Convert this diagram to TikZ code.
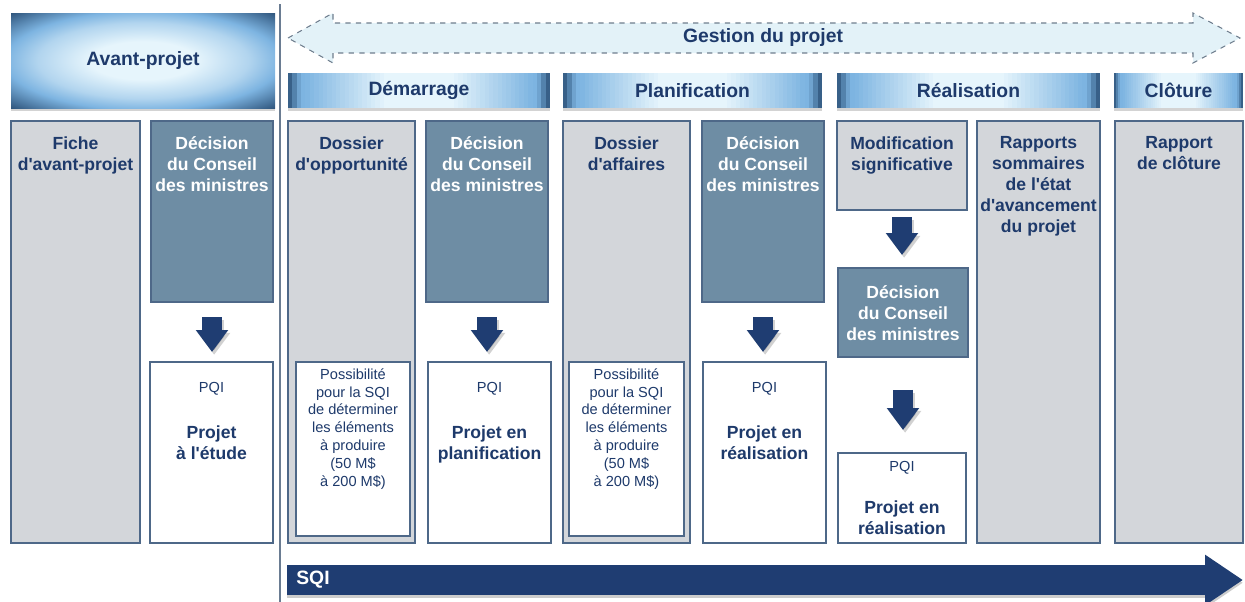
\documentclass[tikz,border=0pt]{standalone}
\usepackage{fontspec}
\setmainfont{Liberation Sans}[Ligatures=TeXOff]
\usetikzlibrary{arrows.meta,shadows,calc}
\definecolor{navy}{HTML}{1E3A6B}
\definecolor{cellgray}{HTML}{D3D6DA}
\definecolor{cellslate}{HTML}{6E8DA4}
\definecolor{cellline}{HTML}{4E6888}
\definecolor{hdrlight}{HTML}{E6F5FC}
\definecolor{hdrmid}{HTML}{7DB4E1}
\definecolor{hdrdark}{HTML}{2A4F76}
\definecolor{mgmtfill}{HTML}{E3F2F8}
\definecolor{dashgray}{HTML}{6F7E8E}
\definecolor{arrowblue}{HTML}{1F3D72}
\definecolor{sepgray}{HTML}{6A7C92}
\pgfdeclareradialshading{hdrglow}{\pgfpoint{0bp}{0bp}}{color(0bp)=(hdrlight); color(10bp)=(hdrlight); color(20bp)=(hdrmid!50!hdrlight); color(26bp)=(hdrmid); color(31bp)=(hdrmid!50!hdrdark); color(36bp)=(hdrdark); color(50bp)=(hdrdark)}
\tikzset{
  cell/.style 2 args={anchor=north west, inner sep=0pt, outer sep=0pt,
    minimum width=#1*0.02cm, minimum height=#2*0.02cm, draw=cellline, line width=0.6pt},
  graycell/.style={fill=cellgray},
  slatecell/.style={fill=cellslate},
  whitecell/.style={fill=white},
  hdr/.style={draw=none, font=\bfseries\fontsize{11}{13}\selectfont, text=navy,
    drop shadow={shadow xshift=0pt, shadow yshift=-1.6pt, opacity=0.35}},
  phase/.style={hdr, fill=hdrmid, path picture={
    \coordinate (pa) at (path picture bounding box.south west);
    \coordinate (pb) at (path picture bounding box.north east);
    \foreach \k in {0,...,59}{
      \pgfmathsetmacro{\tpos}{abs(\k+0.5-30)/30}
      \pgfmathsetmacro{\pmix}{min(100,max(0,(\tpos-0.25)/0.62*100))}
      \pgfmathsetmacro{\qmix}{min(100,max(0,(\tpos-0.9)/0.1*100))}
      \colorlet{barmix}{hdrmid!\pmix!hdrlight}
      \fill[hdrdark!\qmix!barmix] ($(pa)!{\k/60}!(pa -| pb)$) rectangle ($(pa |- pb)!{(\k+1.05)/60}!(pb)$);
    }}},
  hdrtext/.style={font=\bfseries\fontsize{11}{13}\selectfont, text=navy, inner sep=0pt},
  title/.style={anchor=north, align=center, inner sep=0pt, text=navy,
    font=\bfseries\fontsize{10}{12}\selectfont},
  wtitle/.style={title, text=white},
  note/.style={anchor=north, align=center, inner sep=0pt, text=navy,
    font=\fontsize{8.3}{10.2}\selectfont},
  mgmt/.style={fill=mgmtfill, draw=dashgray, dashed, line width=0.6pt},
  sepline/.style={draw=sepgray, line width=0.7pt},
  downarrow/.style={draw=arrowblue, line width=0.4cm, -{Triangle[width=0.62cm, length=0.44cm]}},
  arrowshade/.style={downarrow, draw=black, opacity=0.18, transform canvas={xshift=1.2pt, yshift=-1.6pt}},
  sqiarrow/.style={draw=arrowblue, line width=0.6cm, -{Triangle[width=0.96cm, length=0.76cm]}},
  sqitext/.style={anchor=west, inner sep=0pt, text=white, font=\bfseries\fontsize{11}{13}\selectfont}
}
\begin{document}
\begin{tikzpicture}[x=0.02cm,y=-0.02cm]
\useasboundingbox (0,0) rectangle (1245,602);
% avant-projet | projet
\draw[sepline] (280,4) -- (280,602);
% gestion du projet
\draw[mgmt] (288,38) -- (333,13) -- (333,23) -- (1193,23) -- (1193,13) -- (1240,38)
  -- (1193,63) -- (1193,53) -- (333,53) -- (333,63) -- cycle;
\node[hdrtext] (gestion) at (763,38) {Gestion du projet};
% en-tetes
\node[cell={264}{95}, hdr, shading=hdrglow] (avant) at (11,13) {Avant-projet};
\node[cell={262}{35}, phase] (demarrage) at (288,73) {Démarrage};
\node[cell={259}{35}, phase] (planif) at (563,73) {Planification};
\node[cell={263}{35}, phase] (realis) at (837,73) {Réalisation};
\node[cell={129}{35}, phase] (clot) at (1114,73) {Clôture};
% colonnes
\node[cell={129}{422}, graycell] (fiche) at (11,121) {};
\node[title] (fichetxt) at (75.5,136) {Fiche\\d'avant-projet};
\node[cell={122}{181}, slatecell] (dec1) at (151,121) {};
\node[wtitle] (dec1txt) at (212,136) {Décision\\du Conseil\\des ministres};
\node[cell={123}{181}, whitecell] (pqi1) at (150,362) {};
\node[note] (pqi1a) at (211.5,382) {PQI};
\node[title] (pqi1b) at (211.5,425.5) {Projet\\à l'étude};

\node[cell={127}{422}, graycell] (oppo) at (288,121) {};
\node[title] (oppotxt) at (351.5,136) {Dossier\\d'opportunité};
\node[cell={114}{174}, whitecell] (oppoin) at (296,362) {};
\node[note] (oppointxt) at (353,368) {Possibilité\\pour la SQI\\de déterminer\\les éléments\\à produire\\(50 M\$\\à 200 M\$)};
\node[cell={122}{181}, slatecell] (dec2) at (426,121) {};
\node[wtitle] (dec2txt) at (487,136) {Décision\\du Conseil\\des ministres};
\node[cell={123}{181}, whitecell] (pqi2) at (428,362) {};
\node[note] (pqi2a) at (489.5,382) {PQI};
\node[title] (pqi2b) at (489.5,425.5) {Projet en\\planification};

\node[cell={127}{422}, graycell] (affaires) at (563,121) {};
\node[title] (affairestxt) at (626.5,136) {Dossier\\d'affaires};
\node[cell={115}{174}, whitecell] (affairesin) at (569,362) {};
\node[note] (affairesintxt) at (626.5,368) {Possibilité\\pour la SQI\\de déterminer\\les éléments\\à produire\\(50 M\$\\à 200 M\$)};
\node[cell={122}{181}, slatecell] (dec3) at (702,121) {};
\node[wtitle] (dec3txt) at (763,136) {Décision\\du Conseil\\des ministres};
\node[cell={123}{181}, whitecell] (pqi3) at (703,362) {};
\node[note] (pqi3a) at (764.5,382) {PQI};
\node[title] (pqi3b) at (764.5,425.5) {Projet en\\réalisation};

\node[cell={130}{89}, graycell] (modif) at (837,121) {};
\node[title] (modiftxt) at (902,136) {Modification\\significative};
\node[cell={130}{89}, slatecell] (dec4) at (838,268) {};
\node[wtitle] (dec4txt) at (903,285) {Décision\\du Conseil\\des ministres};
\node[cell={128}{90}, whitecell] (pqi4) at (838,453) {};
\node[note] (pqi4a) at (902,461) {PQI};
\node[title] (pqi4b) at (902,500.5) {Projet en\\réalisation};
\node[cell={123}{422}, graycell] (rapports) at (977,121) {};
\node[title] (rapportstxt) at (1038.5,136) {Rapports\\sommaires\\de l'état\\d'avancement\\du projet};

\node[cell={128}{422}, graycell] (cloture) at (1115,121) {};
\node[title] (cloturetxt) at (1179,136) {Rapport\\de clôture};
% fleches
\draw[arrowshade, shorten <=0.3cm, shorten >=0.2cm] (dec1.south) -- (dec1.south |- pqi1.north);
\draw[downarrow, shorten <=0.3cm, shorten >=0.2cm] (dec1.south) -- (dec1.south |- pqi1.north);
\draw[arrowshade, shorten <=0.3cm, shorten >=0.2cm] (dec2.south) -- (dec2.south |- pqi2.north);
\draw[downarrow, shorten <=0.3cm, shorten >=0.2cm] (dec2.south) -- (dec2.south |- pqi2.north);
\draw[arrowshade, shorten <=0.3cm, shorten >=0.2cm] (dec3.south) -- (dec3.south |- pqi3.north);
\draw[downarrow, shorten <=0.3cm, shorten >=0.2cm] (dec3.south) -- (dec3.south |- pqi3.north);
\draw[arrowshade, shorten <=0.14cm, shorten >=0.26cm] (modif.south) -- (modif.south |- dec4.north);
\draw[downarrow, shorten <=0.14cm, shorten >=0.26cm] (modif.south) -- (modif.south |- dec4.north);
\draw[arrowshade, shorten <=0.66cm, shorten >=0.46cm] (dec4.south) -- (dec4.south |- pqi4.north);
\draw[downarrow, shorten <=0.66cm, shorten >=0.46cm] (dec4.south) -- (dec4.south |- pqi4.north);
% SQI
\coordinate (sqistart) at (287,580);
\coordinate (sqiend) at (1243,580);
\draw[sqiarrow, draw=black, opacity=0.2, transform canvas={yshift=-1.6pt}] (sqistart) -- (sqiend);
\draw[sqiarrow] (sqistart) -- (sqiend);
\node[sqitext] (sqi) at (296,580) {SQI};
\end{tikzpicture}
\end{document}
